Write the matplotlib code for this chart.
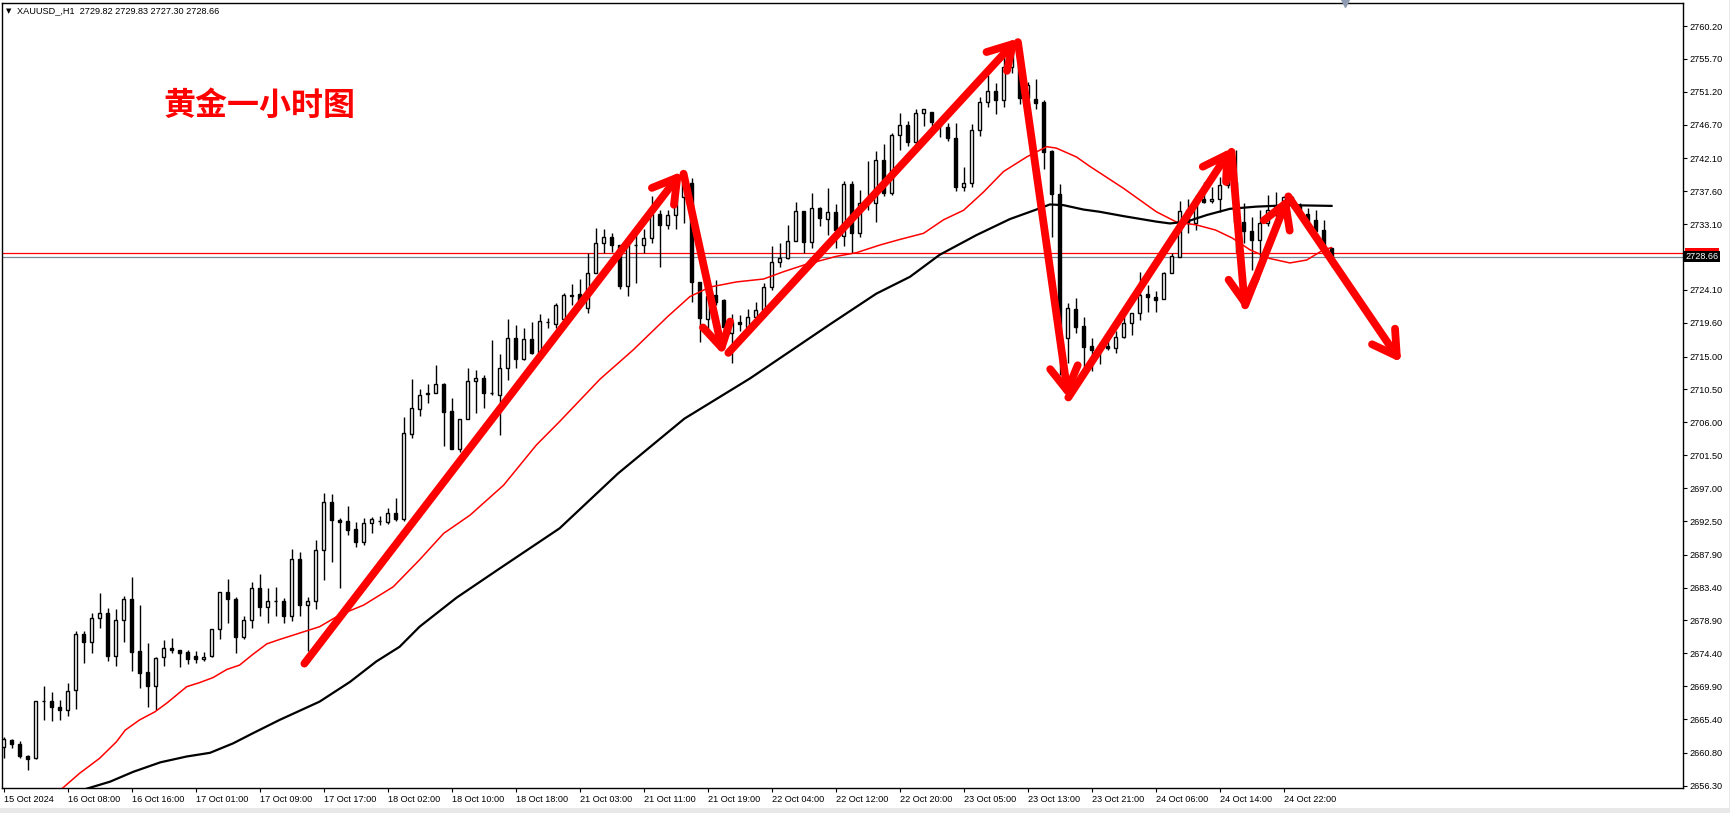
"""XAUUSD H1 candlestick chart with two moving averages and hand-drawn trend arrows."""

import matplotlib

matplotlib.use("Agg")
import matplotlib.pyplot as plt
import matplotlib.transforms as mtransforms
import numpy as np
from matplotlib.patches import FancyArrowPatch, Rectangle

# hourly bars, index 0 = 15 Oct 23:00 (server time)
opens = [
    2661.55, 2662.55, 2661.95, 2660.35, 2660.05, 2667.85, 2667.85, 2667.1, 2666.6, 2669.35,
    2677.0, 2675.9, 2679.2, 2679.9, 2674.1, 2678.9, 2681.9, 2674.7, 2671.8, 2670.0,
    2673.85, 2675.1, 2674.8, 2674.55, 2674.0, 2673.6, 2674.0, 2677.7, 2682.75, 2681.8,
    2676.6, 2678.9, 2683.3, 2680.7, 2681.5, 2681.5, 2679.5, 2687.3, 2681.0, 2681.5,
    2688.55, 2695.05, 2692.7, 2692.5, 2691.4, 2689.7, 2692.2, 2692.5, 2692.4, 2693.55,
    2692.8, 2704.35, 2707.8, 2709.9, 2709.95, 2711.2, 2707.5, 2702.4, 2706.4, 2711.6,
    2712.0, 2710.0, 2709.7, 2713.4, 2717.5, 2714.6, 2717.35, 2715.5, 2719.7, 2719.4,
    2720.1, 2723.3, 2723.55, 2721.6, 2726.4, 2730.5, 2731.3, 2730.3, 2724.65, 2730.2,
    2730.2, 2731.2, 2734.5, 2732.95, 2734.3, 2736.8, 2738.7, 2725.15, 2720.1, 2723.4,
    2722.7, 2718.2, 2719.7, 2719.1, 2720.45, 2721.4, 2724.5, 2727.9, 2728.5, 2730.8,
    2734.9, 2730.6, 2735.3, 2733.8, 2734.7, 2731.5, 2738.6, 2731.85, 2735.95, 2735.95,
    2741.9, 2737.4, 2745.3, 2746.6, 2744.4, 2748.25, 2748.4, 2747.1, 2746.4, 2744.95,
    2738.2, 2738.7, 2746.0, 2749.75, 2751.3, 2750.1, 2754.6, 2755.5, 2750.3, 2750.2,
    2749.8, 2743.15, 2737.2, 2717.5, 2721.45, 2719.2, 2716.4, 2715.9, 2716.5, 2716.1,
    2717.7, 2719.55, 2721.0, 2723.55, 2723.2, 2722.8, 2726.4, 2728.65, 2735.0, 2733.3,
    2736.6, 2736.3, 2736.6, 2738.5, 2738.9, 2733.45, 2732.1, 2730.9, 2733.3, 2735.1,
    2735.4, 2736.8, 2735.7, 2734.5, 2733.7, 2732.3, 2729.82,
]
highs = [
    2663.0, 2662.7, 2662.4, 2660.45, 2667.85, 2669.9, 2669.1, 2668.0, 2670.35, 2677.45,
    2677.4, 2679.9, 2682.6, 2680.6, 2680.5, 2682.25, 2684.85, 2681.0, 2675.8, 2673.85,
    2676.2, 2676.5, 2674.8, 2674.9, 2674.7, 2674.6, 2677.8, 2682.75, 2684.6, 2682.1,
    2679.5, 2684.1, 2685.25, 2683.3, 2683.5, 2682.0, 2688.7, 2688.2, 2682.15, 2689.9,
    2696.3, 2696.15, 2692.9, 2694.5, 2692.4, 2692.9, 2693.0, 2693.2, 2694.25, 2695.6,
    2706.7, 2711.9, 2710.6, 2711.2, 2713.8, 2711.4, 2709.3, 2706.4, 2713.4, 2713.2,
    2712.5, 2717.25, 2715.4, 2720.1, 2719.3, 2718.85, 2719.7, 2720.8, 2720.2, 2722.3,
    2723.75, 2724.9, 2725.55, 2729.2, 2732.6, 2732.5, 2731.85, 2730.3, 2731.2, 2731.85,
    2732.5, 2736.9, 2735.05, 2735.05, 2737.8, 2739.6, 2739.4, 2725.15, 2724.1, 2725.4,
    2722.8, 2720.8, 2720.7, 2721.45, 2722.4, 2725.0, 2730.1, 2730.5, 2733.0, 2736.2,
    2734.9, 2737.3, 2735.4, 2738.1, 2735.8, 2739.05, 2739.05, 2737.8, 2741.7, 2743.15,
    2744.0, 2745.6, 2748.25, 2747.2, 2748.8, 2748.9, 2748.4, 2747.5, 2747.0, 2746.9,
    2740.95, 2746.8, 2750.5, 2753.5, 2752.4, 2756.0, 2757.6, 2756.7, 2752.6, 2752.9,
    2750.1, 2743.2, 2738.6, 2722.3, 2722.95, 2720.4, 2717.5, 2717.0, 2718.0, 2718.5,
    2721.0, 2721.0, 2726.5, 2724.8, 2723.9, 2726.6, 2729.2, 2736.3, 2736.6, 2737.1,
    2738.9, 2738.2, 2739.6, 2739.6, 2743.2, 2735.95, 2734.1, 2735.0, 2737.1, 2737.55,
    2736.9, 2736.9, 2736.0, 2735.3, 2735.0, 2733.7, 2729.83,
]
lows = [
    2660.05, 2661.4, 2660.1, 2658.45, 2660.0, 2665.3, 2665.1, 2665.3, 2665.85, 2666.85,
    2673.1, 2674.4, 2677.9, 2673.3, 2672.7, 2675.9, 2672.0, 2669.7, 2667.1, 2666.65,
    2672.7, 2674.4, 2672.6, 2672.95, 2673.1, 2673.3, 2673.95, 2676.3, 2678.6, 2674.4,
    2676.3, 2677.9, 2679.55, 2678.5, 2679.55, 2678.5, 2678.8, 2679.5, 2674.7, 2680.5,
    2684.5, 2686.9, 2683.4, 2690.6, 2689.0, 2689.2, 2690.8, 2692.0, 2692.1, 2692.55,
    2692.55, 2703.8, 2706.8, 2708.6, 2709.95, 2702.8, 2702.4, 2701.9, 2706.4, 2707.3,
    2708.0, 2709.7, 2704.3, 2711.8, 2713.4, 2714.5, 2715.35, 2715.5, 2718.85, 2718.9,
    2720.1, 2722.05, 2721.6, 2721.0, 2726.4, 2729.2, 2729.35, 2724.3, 2723.3, 2725.1,
    2729.2, 2730.5, 2727.3, 2732.5, 2732.5, 2733.3, 2722.4, 2717.0, 2717.95, 2722.05,
    2717.0, 2714.1, 2718.5, 2718.6, 2719.9, 2721.3, 2724.1, 2727.3, 2728.4, 2730.8,
    2729.2, 2729.8, 2732.8, 2731.6, 2729.8, 2730.1, 2729.1, 2731.4, 2735.0, 2733.4,
    2736.95, 2737.1, 2743.3, 2743.8, 2743.9, 2746.5, 2745.6, 2745.0, 2744.5, 2737.7,
    2737.7, 2738.2, 2745.1, 2749.1, 2748.2, 2749.1, 2753.8, 2749.6, 2749.2, 2748.9,
    2740.6, 2731.4, 2712.5, 2714.1, 2718.2, 2713.6, 2713.0, 2714.0, 2715.9, 2715.5,
    2717.5, 2718.0, 2720.0, 2721.1, 2721.1, 2722.8, 2726.4, 2728.65, 2731.85, 2732.3,
    2735.95, 2736.0, 2734.8, 2738.0, 2729.3, 2730.5, 2726.8, 2727.75, 2732.8, 2734.1,
    2735.3, 2735.3, 2734.2, 2733.0, 2732.1, 2729.8, 2727.30,
]
closes = [
    2662.65, 2662.0, 2660.3, 2660.0, 2667.85, 2667.85, 2667.0, 2666.6, 2669.2, 2677.0,
    2675.9, 2679.2, 2679.9, 2674.1, 2678.9, 2681.9, 2674.6, 2671.75, 2670.0, 2673.7,
    2675.1, 2674.8, 2674.5, 2673.6, 2673.6, 2673.85, 2677.7, 2682.75, 2681.8, 2676.6,
    2678.9, 2683.3, 2680.7, 2681.5, 2681.5, 2679.5, 2687.3, 2681.0, 2681.5, 2688.5,
    2695.05, 2692.7, 2692.4, 2691.3, 2689.7, 2692.2, 2692.8, 2692.5, 2693.55, 2692.8,
    2704.5, 2707.9, 2709.8, 2709.9, 2711.2, 2707.45, 2702.4, 2706.4, 2711.6, 2712.0,
    2710.0, 2710.0, 2713.4, 2717.5, 2714.6, 2717.35, 2715.5, 2719.8, 2719.7, 2722.0,
    2723.4, 2723.3, 2722.3, 2726.4, 2730.5, 2731.3, 2730.2, 2724.65, 2730.2, 2730.2,
    2731.2, 2734.5, 2732.95, 2734.3, 2736.8, 2738.7, 2725.2, 2720.2, 2723.3, 2722.5,
    2719.1, 2719.7, 2719.4, 2720.45, 2721.4, 2724.5, 2727.9, 2728.5, 2730.8, 2734.9,
    2730.6, 2735.3, 2733.9, 2734.7, 2732.3, 2738.6, 2731.85, 2735.95, 2736.0, 2741.9,
    2737.4, 2745.3, 2746.6, 2744.4, 2748.25, 2748.8, 2747.1, 2746.5, 2744.95, 2738.2,
    2738.7, 2746.0, 2749.75, 2751.3, 2750.1, 2754.6, 2756.6, 2750.3, 2752.1, 2749.7,
    2743.0, 2737.2, 2717.5, 2721.6, 2719.1, 2716.3, 2715.9, 2716.5, 2716.1, 2717.7,
    2719.55, 2721.0, 2723.4, 2723.1, 2722.7, 2726.4, 2728.75, 2734.95, 2733.2, 2736.6,
    2736.2, 2736.6, 2738.5, 2738.9, 2733.45, 2732.1, 2730.9, 2733.3, 2735.1, 2735.5,
    2736.8, 2735.7, 2734.8, 2733.6, 2732.2, 2729.9, 2728.66,
]

# moving averages (bar position, price)
red_ma_x = [7.3, 9.5, 12, 14.1, 15.2, 17, 18.9, 20.4, 22.9, 24.5, 26.2, 27.9, 29.5, 31.2,
            32.9, 34.5, 39.5, 42, 45, 48.7, 52, 55, 58.3, 62.5, 66.6, 69.5, 74.55, 78.7,
            83, 85.8, 88.3, 91.6, 95, 97.5, 100, 104.1, 106.6, 109.55, 112, 115, 117.5,
            120, 122.5, 125, 127.9, 130.4, 131.6, 134.1, 135.8, 140, 144.1, 146.6, 149.1,
            151.5, 153.6, 155.8, 158.3, 160.8, 162.9, 165, 166]
red_ma_y = [2655.9, 2658.0, 2660.05, 2662.3, 2663.9, 2665.3, 2666.4, 2667.6, 2669.85,
            2670.4, 2671.1, 2672.2, 2672.8, 2674.3, 2675.7, 2676.3, 2678.05, 2679.65,
            2681.0, 2683.5, 2687.2, 2690.8, 2693.3, 2697.4, 2702.9, 2706.1, 2711.9,
            2715.9, 2720.45, 2723.2, 2724.5, 2725.2, 2725.6, 2726.6, 2727.5, 2728.7,
            2729.2, 2730.25, 2731.0, 2731.85, 2733.7, 2735.0, 2737.5, 2740.3, 2742.3,
            2743.7, 2743.5, 2742.3, 2741.0, 2738.0, 2734.8, 2733.4, 2733.0, 2732.3,
            2731.2, 2729.6, 2728.4, 2727.8, 2728.2, 2729.6, 2729.9]
black_ma_x = [10.4, 13.3, 16.2, 19.6, 22.9, 25.8, 28.7, 31.2, 34.5, 39.5, 43.3, 46.6,
              49.5, 52, 56.6, 62, 69.5, 76.8, 85.1, 93.3, 103.3, 109.1, 113.3, 117,
              121.6, 125.8, 129.1, 130.8, 132.5, 135, 137, 140, 144.1, 145.8, 147.9,
              150.4, 153.3, 156.6, 160.8, 166]
black_ma_y = [2655.9, 2656.85, 2658.2, 2659.5, 2660.3, 2660.8, 2662.1, 2663.5, 2665.3,
              2667.8, 2670.5, 2673.3, 2675.3, 2678.05, 2682.0, 2686.0, 2691.5, 2699.0,
              2706.5, 2712.0, 2719.4, 2723.6, 2725.9, 2728.9, 2731.6, 2733.8, 2735.1,
              2735.8, 2735.7, 2735.1, 2734.8, 2734.2, 2733.45, 2733.2, 2733.45, 2734.35,
              2735.2, 2735.5, 2735.7, 2735.6]

# red trend arrows drawn on the chart: (start bar, start price, end bar, end price)
arrow_paths = [
    (37.6, 2673.0, 84.8, 2740.3),
    (85.0, 2740.0, 89.96, 2715.2),
    (90.6, 2715.5, 126.8, 2758.5),
    (126.8, 2758.0, 133.1, 2709.3),
    (133.1, 2709.4, 153.5, 2743.5),
    (153.5, 2743.0, 155.2, 2721.4),
    (155.2, 2722.0, 160.6, 2736.9),
    (160.6, 2736.9, 174.7, 2714.2),
]

time_labels = ["15 Oct 2024", "16 Oct 08:00", "16 Oct 16:00", "17 Oct 01:00", "17 Oct 09:00",
               "17 Oct 17:00", "18 Oct 02:00", "18 Oct 10:00", "18 Oct 18:00", "21 Oct 03:00",
               "21 Oct 11:00", "21 Oct 19:00", "22 Oct 04:00", "22 Oct 12:00", "22 Oct 20:00",
               "23 Oct 05:00", "23 Oct 13:00", "23 Oct 21:00", "24 Oct 06:00", "24 Oct 14:00",
               "24 Oct 22:00"]
price_ticks = [2760.20, 2755.70, 2751.20, 2746.70, 2742.10, 2737.60, 2733.10, 2724.10,
               2719.60, 2715.00, 2710.50, 2706.00, 2701.50, 2697.00, 2692.50, 2687.90,
               2683.40, 2678.90, 2674.40, 2669.90, 2665.40, 2660.80, 2656.30]
bid_price = 2728.66
ask_price = 2729.16
header = "XAUUSD_,H1  2729.82 2729.83 2727.30 2728.66"
title = "黄金一小时图"

W, H = 1731, 813
FONT = "Liberation Sans"


def main():
    fig = plt.figure(figsize=(W / 100, H / 100), dpi=100)
    fig.patch.set_facecolor("white")
    ax = fig.add_axes([2 / W, 1 - 787.7 / H, 1680.7 / W, 785 / H])

    o = np.array(opens)
    h = np.array(highs)
    lo = np.array(lows)
    c = np.array(closes)
    x = np.arange(len(o))
    up = c >= o

    ax.vlines(x, lo, h, color="black", lw=1.0, zorder=2)
    body = np.maximum(np.abs(c - o), 0.06)
    ax.bar(x, body, bottom=np.minimum(o, c), width=0.4,
           color=np.where(up, "white", "black"), edgecolor="black",
           linewidth=1.0, zorder=3)

    ax.plot(red_ma_x, red_ma_y, color="#ff0000", lw=1.1, zorder=4)
    ax.plot(black_ma_x, black_ma_y, color="black", lw=1.6, zorder=4)

    ax.axhline(ask_price, color="#ff0000", lw=0.9, zorder=1)
    ax.axhline(bid_price, color="#778899", lw=0.9, zorder=1)

    for x0, y0, x1, y1 in arrow_paths:
        ax.add_patch(FancyArrowPatch(
            (x0, y0), (x1, y1),
            arrowstyle="->,head_length=0.85,head_width=0.5",
            mutation_scale=20, lw=5.6, color="#ff0000",
            shrinkA=0, shrinkB=0, capstyle="round", joinstyle="round", zorder=6))

    ax.set_xlim(-0.2, 209.9)
    ax.set_ylim(2656.03, 2763.39)

    ax.set_xticks(np.arange(len(time_labels)) * 8)
    ax.set_xticklabels(time_labels, fontsize=6.6, family=FONT)
    for lbl in ax.get_xticklabels():
        lbl.set_ha("left")
    ax.tick_params(axis="x", direction="out", length=3, width=0.8, pad=2)

    ax.yaxis.tick_right()
    ax.set_yticks(price_ticks)
    ax.set_yticklabels([f"{v:.2f}" for v in price_ticks], fontsize=6.6, family=FONT)
    ax.tick_params(axis="y", direction="out", length=3, width=0.8, pad=2)

    for sp in ax.spines.values():
        sp.set_color("black")
        sp.set_linewidth(1.0)

    # price tags on the right scale: ask tag mostly hidden behind the bid tag
    tr = mtransforms.blended_transform_factory(ax.transAxes, ax.transData)
    ax.add_patch(Rectangle((1.0012, ask_price - 0.1), 0.0206, 0.85, transform=tr,
                           fc="#ff0000", ec="none", clip_on=False, zorder=9))
    ax.text(1.0015, bid_price, f"{bid_price:.2f}", transform=tr, fontsize=6.6, family=FONT,
            color="white", va="center", ha="left", clip_on=False, zorder=10,
            bbox=dict(boxstyle="square,pad=0.14", fc="black", ec="none"))

    # chart shift marker
    ax.plot([167.7], [1.0], marker="v", ms=6, color="#8e9bb0",
            transform=mtransforms.blended_transform_factory(ax.transData, ax.transAxes),
            clip_on=False, zorder=8)

    fig.text(6 / W, 1 - 11 / H, "▼", fontsize=5, va="center", ha="left")
    fig.text(17 / W, 1 - 11 / H, header, fontsize=6.6, family=FONT, va="center", ha="left")
    fig.text(163 / W, 1 - 106 / H, title, fontsize=23, fontweight="bold", color="#ff0000",
             family=["Noto Sans CJK SC", "DejaVu Sans"], va="center", ha="left")

    # window frame
    fig.patches.append(Rectangle((1729 / W, 0), 2 / W, 1, transform=fig.transFigure,
                                 fc="#e8e8e8", ec="none"))
    fig.patches.append(Rectangle((0, 0), 1, 5 / H, transform=fig.transFigure,
                                 fc="#e8e8e8", ec="none"))

    fig.savefig("out.png", dpi=100)
    plt.close(fig)


if __name__ == "__main__":
    main()
